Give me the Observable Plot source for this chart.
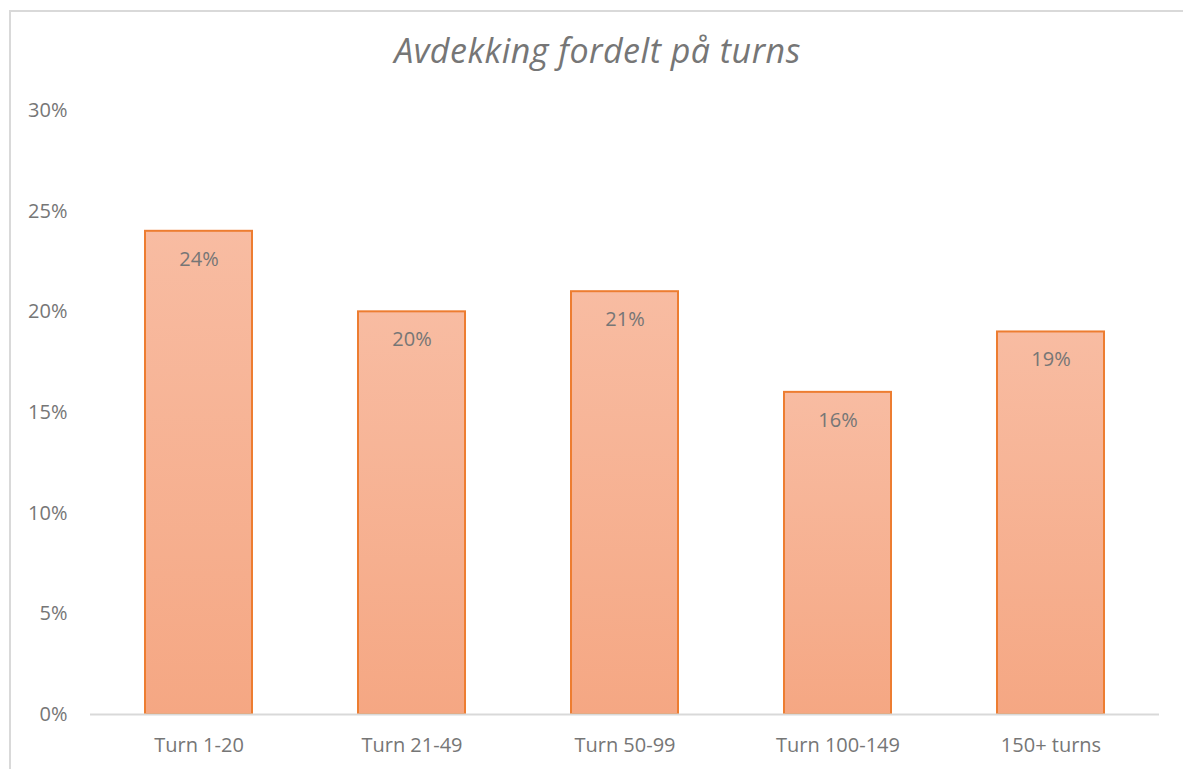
<!DOCTYPE html>
<html>
<head>
<meta charset="utf-8">
<script src="https://cdn.jsdelivr.net/npm/d3@7"></script>
<script src="https://cdn.jsdelivr.net/npm/@observablehq/plot@0.6"></script>
<style>
  html, body { margin: 0; padding: 0; background: #fff; }
  #wrap { position: relative; width: 1183px; height: 769px; overflow: hidden; font-family: "Open Sans", sans-serif; }
  #frame { position: absolute; left: 9px; top: 10px; width: 1200px; height: 800px; border: 2px solid #d9d9d9; box-sizing: border-box; }
  #title { position: absolute; left: 0; width: 1195px; top: 27px; text-align: center; font-style: italic; font-size: 34px; color: #767676; letter-spacing: 0.5px; }
  #chart { position: absolute; left: 0; top: 0; }
</style>
</head>
<body>
<div id="wrap">
  <div id="frame"></div>
  <div id="title">Avdekking fordelt på turns</div>
  <div id="chart"></div>
</div>
<script>
const categories = ["Turn 1-20", "Turn 21-49", "Turn 50-99", "Turn 100-149", "150+ turns"];
const values = [0.24, 0.20, 0.21, 0.16, 0.19];
const yTicks = [0, 0.05, 0.10, 0.15, 0.20, 0.25, 0.30];

const data = categories.map((c, i) => ({ category: c, value: values[i] }));

const chart = Plot.plot({
  width: 1183,
  height: 769,
  marginTop: 110,
  marginBottom: 55,
  marginLeft: 90,
  marginRight: 24,
  style: { fontFamily: "'Open Sans', sans-serif", fontSize: "20px", color: "#767676", background: "transparent", overflow: "visible" },
  x: { domain: categories, paddingInner: 0.5, paddingOuter: 0.25, align: 0.5, label: null, tickSize: 0, tickPadding: 23 },
  y: { domain: [0, 0.30], ticks: yTicks, tickFormat: d => Math.round(d * 100) + "%", label: null, tickSize: 0, tickPadding: 23 },
  marks: [
    Plot.barY(data, { x: "category", y: "value", fill: "url(#barGrad)", stroke: "#ed7d31", strokeWidth: 2 }),
    Plot.ruleY([0], { stroke: "#d9d9d9", strokeWidth: 2 }),
    Plot.text(data, { x: "category", y: "value", text: d => Math.round(d.value * 100) + "%", lineAnchor: "top", dy: 20, fill: "#767676", fontSize: 20 })
  ]
});

const svg = d3.select(chart);
const defs = svg.insert("defs", ":first-child");
const g = defs.append("linearGradient").attr("id", "barGrad").attr("x1", 0).attr("y1", 0).attr("x2", 0).attr("y2", 1);
g.append("stop").attr("offset", "0%").attr("stop-color", "#f8bca2");
g.append("stop").attr("offset", "100%").attr("stop-color", "#f5a783");

document.getElementById("chart").appendChild(chart);
</script>
</body>
</html>
